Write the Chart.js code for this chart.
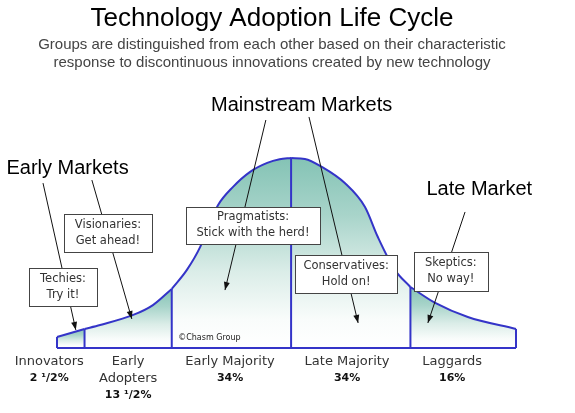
<!DOCTYPE html>
<html>
<head>
<meta charset="utf-8">
<title>Technology Adoption Life Cycle</title>
<script src="https://cdn.jsdelivr.net/npm/chart.js"></script>
<style>
  html, body { margin: 0; padding: 0; background: #fff; }
  #wrap { width: 575px; height: 413px; }
</style>
</head>
<body>
<div id="wrap"><canvas id="lifeCycle"></canvas></div>
<script>
  // Data (timeline position 0-100, relative adoption 0-100)
  const boundaries = [0, 6, 25, 51, 77, 100];
  const curveX = [0, 6, 9.4, 16.6, 20.9, 25, 28.3, 31.2, 33.3, 35.1, 38.3, 42, 45.8, 48.5, 51, 54, 57.7, 62.7, 67.1, 69.9, 73.6, 77, 82.4, 89.5, 100];
  const curveY = [5.8, 10, 12.1, 17.4, 22.6, 31.1, 41.1, 53.2, 65.8, 75.3, 84.7, 92.6, 97.4, 99.3, 100, 99.5, 95.3, 86.8, 74.2, 58.4, 41.1, 32.1, 23.7, 16.3, 10];
  const groupNames = [['Innovators'], ['Early', 'Adopters'], ['Early Majority'], ['Late Majority'], ['Laggards']];
  const groupShares = ['2 \u00B9/2%', '13 \u00B9/2%', '34%', '34%', '16%'];

  // Text and callouts
  const chartTitle = 'Technology Adoption Life Cycle';
  const chartSubtitle = ['Groups are distinguished from each other based on their characteristic',
                         'response to discontinuous innovations created by new technology'];
  const groupLabelX = [-1.7, 15.5, 37.7, 63.2, 86.1];
  const markets = [
    { text: 'Early Markets', at: [2.3, 94.7] },
    { text: 'Mainstream Markets', at: [53.3, 127.9] },
    { text: 'Late Market', at: [92.0, 83.2] }
  ];
  const pointers = [
    { from: [-3.05, 86.8], to: [4.1, 9.5] },
    { from: [7.6, 88.4], to: [16.3, 15.3] },
    { from: [45.5, 120], to: [36.6, 30.5] },
    { from: [54.9, 121.6], to: [65.6, 13.2] },
    { from: [88.9, 71.6], to: [80.8, 13.2] }
  ];
  const boxes = [
    { lines: ['Techies:', 'Try it!'], at: [1.3, 32.1], w: 68, h: 38 },
    { lines: ['Visionaries:', 'Get ahead!'], at: [11.1, 60.5], w: 88, h: 38 },
    { lines: ['Pragmatists:', 'Stick with the herd!'], at: [42.7, 64.5], w: 134, h: 37 },
    { lines: ['Conservatives:', 'Hold on!'], at: [63.0, 38.9], w: 102, h: 38 },
    { lines: ['Skeptics:', 'No way!'], at: [85.8, 40.3], w: 74, h: 39 }
  ];

  const lineBlue = '#3434c8';

  function curveAt(x) {
    return curveY[curveX.indexOf(x)];
  }

  // vertical gradient from the top of each segment down to the base line
  function segmentFill(ctx, seg) {
    const chart = ctx.chart;
    if (!chart.chartArea) return 'rgba(0,0,0,0)';
    const ys = chart.scales.y;
    const a = boundaries[seg], b = boundaries[seg + 1];
    let topY = 0;
    curveX.forEach((x, i) => { if (x >= a && x <= b) topY = Math.max(topY, curveY[i]); });
    const g = chart.ctx.createLinearGradient(0, ys.getPixelForValue(topY), 0, ys.getPixelForValue(0));
    g.addColorStop(0, '#84c3b5');
    g.addColorStop(0.3, '#a8d4ca');
    g.addColorStop(0.6, '#dbede8');
    g.addColorStop(0.85, '#f9fcfb');
    g.addColorStop(1, '#ffffff');
    return g;
  }

  const datasets = [];
  for (let s = 0; s < boundaries.length - 1; s++) {
    const pts = [];
    curveX.forEach((x, i) => {
      if (x >= boundaries[s] && x <= boundaries[s + 1]) pts.push({ x: x, y: curveY[i] });
    });
    datasets.push({
      data: pts,
      order: 2,
      borderColor: lineBlue,
      borderWidth: 2,
      pointRadius: 0,
      cubicInterpolationMode: 'monotone',
      fill: 'origin',
      backgroundColor: (ctx) => segmentFill(ctx, s),
      clip: false
    });
  }
  // group dividers and outer edges
  boundaries.forEach((b) => {
    datasets.push({
      data: [{ x: b, y: 0 }, { x: b, y: curveAt(b) }],
      order: 1,
      borderColor: lineBlue, borderWidth: 2, pointRadius: 0, fill: false, clip: false
    });
  });
  // base line
  datasets.push({
    data: [{ x: boundaries[0], y: 0 }, { x: boundaries[boundaries.length - 1], y: 0 }],
    order: 1,
    borderColor: lineBlue, borderWidth: 2, pointRadius: 0, fill: false, clip: false
  });

  const calloutPlugin = {
    id: 'callouts',
    afterDatasetsDraw(chart) {
      const ctx = chart.ctx;
      const xs = chart.scales.x, ys = chart.scales.y;
      const P = (p) => [xs.getPixelForValue(p[0]), ys.getPixelForValue(p[1])];
      ctx.save();

      // pointer lines with arrow heads
      ctx.strokeStyle = '#111';
      ctx.fillStyle = '#111';
      ctx.lineWidth = 1;
      pointers.forEach((pt) => {
        const [x1, y1] = P(pt.from);
        const [x2, y2] = P(pt.to);
        ctx.beginPath();
        ctx.moveTo(x1, y1);
        ctx.lineTo(x2, y2);
        ctx.stroke();
        const ang = Math.atan2(y2 - y1, x2 - x1);
        ctx.beginPath();
        ctx.moveTo(x2, y2);
        ctx.lineTo(x2 - 8 * Math.cos(ang) + 3 * Math.sin(ang), y2 - 8 * Math.sin(ang) - 3 * Math.cos(ang));
        ctx.lineTo(x2 - 8 * Math.cos(ang) - 3 * Math.sin(ang), y2 - 8 * Math.sin(ang) + 3 * Math.cos(ang));
        ctx.closePath();
        ctx.fill();
      });

      // boxes
      ctx.textAlign = 'center';
      ctx.textBaseline = 'middle';
      boxes.forEach((bx) => {
        const [cx, cy] = P(bx.at);
        const l = Math.round(cx - bx.w / 2) + 0.5, t = Math.round(cy - bx.h / 2) + 0.5;
        ctx.fillStyle = '#fff';
        ctx.fillRect(l, t, bx.w, bx.h);
        ctx.strokeStyle = '#444';
        ctx.strokeRect(l, t, bx.w, bx.h);
        ctx.fillStyle = '#333';
        ctx.font = '11.5px "DejaVu Sans"';
        ctx.fillText(bx.lines[0], cx, cy - 8);
        ctx.fillText(bx.lines[1], cx, cy + 8);
      });

      // market headings
      ctx.fillStyle = '#000';
      ctx.font = '20px "Liberation Sans"';
      markets.forEach((m) => {
        const [cx, cy] = P(m.at);
        ctx.fillText(m.text, cx, cy);
      });

      // group names under the curve
      const base = ys.getPixelForValue(0);
      groupNames.forEach((names, i) => {
        const cx = xs.getPixelForValue(groupLabelX[i]);
        ctx.fillStyle = '#333';
        ctx.font = '13px "DejaVu Sans"';
        names.forEach((n, k) => ctx.fillText(n, cx, base + 14 + k * 17));
        ctx.fillStyle = '#111';
        ctx.font = 'bold 11px "DejaVu Sans"';
        ctx.fillText(groupShares[i], cx, base + 30 + (names.length - 1) * 17);
      });

      // copyright note
      ctx.textAlign = 'left';
      ctx.fillStyle = '#222';
      ctx.font = '8px "DejaVu Sans"';
      const [nx, ny] = P([26.4, 5.3]);
      ctx.fillText('\u00A9Chasm Group', nx, ny);

      // title and subtitle
      ctx.textAlign = 'center';
      ctx.fillStyle = '#000';
      ctx.font = '26px "Liberation Sans"';
      ctx.fillText(chartTitle, 272, 19);
      ctx.fillStyle = '#444';
      ctx.font = '15px "Liberation Sans"';
      ctx.fillText(chartSubtitle[0], 272, 45);
      ctx.fillText(chartSubtitle[1], 272, 63);
      ctx.restore();
    }
  };

  const lifeCtx = document.getElementById('lifeCycle').getContext('2d');
  const lifeChart = new Chart(lifeCtx, {
    type: 'line',
    data: { datasets: datasets },
    options: {
      responsive: true,
      maintainAspectRatio: false,
      animation: false,
      layout: { padding: { left: 57, right: 59, top: 158, bottom: 65 } },
      plugins: {
        legend: { display: false },
        tooltip: { enabled: false }
      },
      scales: {
        x: { type: 'linear', min: 0, max: 100, display: false },
        y: { min: 0, max: 100, display: false }
      }
    },
    plugins: [calloutPlugin]
  });
</script>
</body>
</html>
